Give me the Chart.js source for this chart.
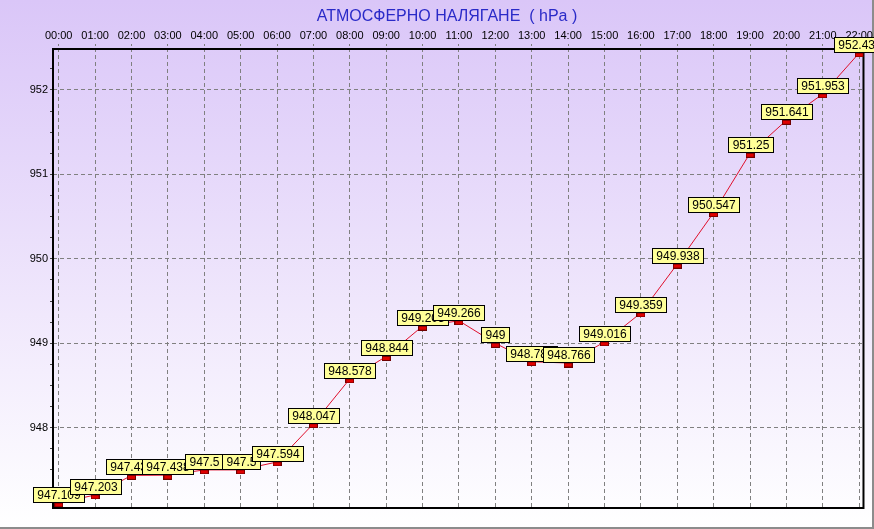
<!DOCTYPE html>
<html>
<head>
<meta charset="utf-8">
<script src="https://cdn.jsdelivr.net/npm/chart.js@4.4.1/dist/chart.umd.min.js"></script>
<style>
html, body { margin: 0; padding: 0; background: #fff; }
#wrap { width: 874px; height: 529px; }
</style>
</head>
<body>
<div id="wrap"><canvas id="pressureChart" width="874" height="529"></canvas></div>
<script>
const chartTitle = 'АТМОСФЕРНО НАЛЯГАНЕ  ( hPa )';
const hours = ['00:00', '01:00', '02:00', '03:00', '04:00', '05:00', '06:00', '07:00', '08:00', '09:00', '10:00', '11:00',
  '12:00', '13:00', '14:00', '15:00', '16:00', '17:00', '18:00', '19:00', '20:00', '21:00', '22:00'];
const pressure = [947.109, 947.203, 947.435, 947.438, 947.5, 947.5, 947.594, 948.047, 948.578, 948.844, 949.203, 949.266,
  949, 948.781, 948.766, 949.016, 949.359, 949.938, 950.547, 951.25, 951.641, 951.953, 952.438];
const yMajorTicks = [948, 949, 950, 951, 952];

const labelFont = '12px "Liberation Sans", Arial, sans-serif';

// small red marker, sits a bit below the point like the original
const marker = document.createElement('canvas');
marker.width = 9;
marker.height = 9;
const mctx = marker.getContext('2d');
mctx.fillStyle = '#e00000';
mctx.fillRect(0, 4, 9, 5);
mctx.strokeStyle = '#700000';
mctx.lineWidth = 1;
mctx.strokeRect(0.5, 4.5, 8, 4);

const backdrop = {
  id: 'backdrop',
  beforeDraw(chart) {
    const ctx = chart.ctx;
    const g = ctx.createLinearGradient(0, 0, 0, chart.height);
    g.addColorStop(0, '#dac6f8');
    g.addColorStop(1, '#ffffff');
    ctx.save();
    ctx.fillStyle = g;
    ctx.fillRect(0, 0, chart.width, chart.height);
    ctx.strokeStyle = '#8c8c8c';
    ctx.lineWidth = 2;
    ctx.beginPath();
    ctx.moveTo(chart.width - 1, 0);
    ctx.lineTo(chart.width - 1, chart.height - 1);
    ctx.lineTo(0, chart.height - 1);
    ctx.stroke();

    ctx.fillStyle = '#2a2ac8';
    ctx.font = '16px "Liberation Sans", Arial, sans-serif';
    ctx.textAlign = 'center';
    ctx.textBaseline = 'alphabetic';
    ctx.fillText(chartTitle, 447, 21);
    ctx.restore();
  },
  beforeDatasetsDraw(chart) {
    const a = chart.chartArea;
    const ctx = chart.ctx;
    ctx.save();
    ctx.strokeStyle = '#000';
    ctx.lineWidth = 2;
    ctx.strokeRect(a.left, a.top + 1, a.right - a.left, a.bottom - a.top - 1);
    ctx.restore();
  }
};

const valueBoxes = {
  id: 'valueBoxes',
  afterDatasetsDraw(chart) {
    const ctx = chart.ctx;
    const meta = chart.getDatasetMeta(0);
    ctx.save();
    ctx.font = labelFont;
    ctx.textAlign = 'center';
    ctx.textBaseline = 'middle';
    meta.data.forEach((pt, i) => {
      const text = String(pressure[i]);
      const w = Math.round(ctx.measureText(text).width) + 8;
      const h = 15;
      const x = Math.round(pt.x - w / 2) + 0.5;
      const y = Math.round(pt.y) - h - 0.5;
      ctx.fillStyle = '#ffff99';
      ctx.fillRect(x, y, w, h);
      ctx.strokeStyle = '#000';
      ctx.lineWidth = 1;
      ctx.strokeRect(x, y, w, h);
      ctx.fillStyle = '#000';
      ctx.fillText(text, x + w / 2, y + h / 2 + 1);
    });
    ctx.restore();
  }
};

const ctx = document.getElementById('pressureChart').getContext('2d');
const pressureChart = new Chart(ctx, {
  type: 'line',
  data: {
    datasets: [{
      label: chartTitle,
      data: pressure.map((v, i) => ({ x: i, y: v })),
      borderColor: '#e0102c',
      borderWidth: 1,
      tension: 0,
      fill: false,
      pointStyle: marker,
      pointRadius: 4,
    }]
  },
  options: {
    responsive: false,
    animation: false,
    layout: {
      padding: { left: 0, top: 0, right: 9, bottom: 21 },
    },
    plugins: {
      legend: { display: false },
      title: { display: false },
      tooltip: { enabled: false },
    },
    scales: {
      x: {
        type: 'linear',
        position: 'top',
        min: -0.157,
        max: 22.118,
        afterFit(scale) { scale.height = 48; },
        afterBuildTicks(scale) {
          scale.ticks = hours.map((h, i) => ({ value: i }));
        },
        ticks: {
          autoSkip: false,
          maxRotation: 0,
          padding: 1,
          color: '#000',
          font: { family: '"Liberation Sans", Arial, sans-serif', size: 11 },
          callback: (v) => hours[v] || '',
        },
        grid: {
          color: '#808080',
          tickLength: 4,
          tickColor: '#808080',
          tickBorderDash: [2, 2],
        },
        border: { display: false, dash: [4, 3] },
      },
      y: {
        min: 947.049,
        max: 952.497,
        afterFit(scale) { scale.width = 53; },
        afterBuildTicks(scale) {
          const ticks = [];
          yMajorTicks.forEach((t) => {
            [-0.75, -0.5, -0.25, 0, 0.25].forEach((d) => ticks.push({ value: t + d }));
          });
          scale.ticks = ticks;
        },
        ticks: {
          padding: 2,
          color: '#000',
          font: { family: '"Liberation Sans", Arial, sans-serif', size: 11 },
          callback: (v) => (Number.isInteger(v) ? String(v) : ''),
        },
        grid: {
          color: (c) => (c.tick && Number.isInteger(c.tick.value) ? '#808080' : 'rgba(0,0,0,0)'),
          tickLength: 3,
          tickColor: '#404040',
        },
        border: { display: false, dash: [4, 3] },
      },
    },
  },
  plugins: [backdrop, valueBoxes],
});
</script>
</body>
</html>
